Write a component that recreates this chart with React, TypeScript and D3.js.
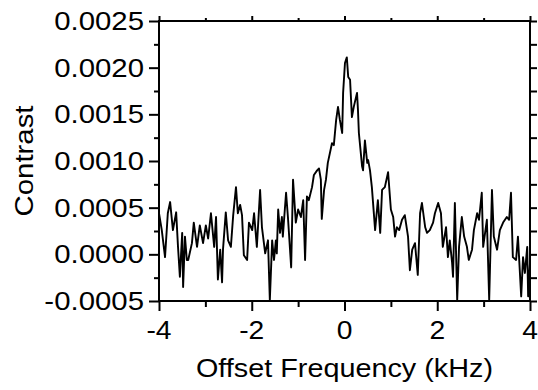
import * as d3 from 'd3';
import { useEffect, useRef } from 'react';

// offset frequency (kHz) and contrast
const freq = [
  -4.0, -3.94, -3.87, -3.81, -3.76, -3.7, -3.63, -3.59, -3.55, -3.5, -3.48, -3.44, -3.4, -3.37, -3.29, -3.25,
  -3.18, -3.12, -3.05, -2.99, -2.94, -2.88, -2.81, -2.77, -2.73, -2.68, -2.64, -2.62, -2.56, -2.51, -2.45, -2.4,
  -2.34, -2.3, -2.25, -2.21, -2.17, -2.1, -2.06, -1.99, -1.95, -1.89, -1.82, -1.78, -1.71, -1.65, -1.61, -1.56,
  -1.52, -1.48, -1.46, -1.43, -1.39, -1.35, -1.33, -1.26, -1.22, -1.15, -1.11, -1.05, -1.0, -0.94, -0.89, -0.85,
  -0.81, -0.77, -0.7, -0.66, -0.59, -0.55, -0.51, -0.49, -0.44, -0.4, -0.36, -0.27, -0.23, -0.18, -0.14, -0.1,
  -0.05, -0.03, 0.01, 0.05, 0.08, 0.12, 0.16, 0.2, 0.27, 0.29, 0.31, 0.38, 0.4, 0.44, 0.49, 0.51,
  0.55, 0.59, 0.66, 0.72, 0.77, 0.81, 0.87, 0.94, 1.0, 1.05, 1.09, 1.13, 1.18, 1.24, 1.3, 1.37,
  1.41, 1.46, 1.52, 1.58, 1.63, 1.67, 1.71, 1.74, 1.78, 1.84, 1.91, 1.95, 2.02, 2.08, 2.12, 2.19,
  2.23, 2.27, 2.32, 2.34, 2.38, 2.43, 2.47, 2.53, 2.58, 2.64, 2.68, 2.75, 2.79, 2.86, 2.9, 2.96,
  2.99, 3.07, 3.12, 3.18, 3.22, 3.29, 3.35, 3.42, 3.5, 3.55, 3.59, 3.63, 3.7, 3.74, 3.81, 3.85,
  3.89, 3.94, 3.96, 4.0
];
const contrast = [
  0.00044, 0.00026, -0.00003, 0.00044, 0.00056, 0.00026, 0.00045, 0.00008, -0.00024, 0.00023, -0.00035, 0.00019, -0.00006, -0.00006, 0.00012, 0.00034,
  0.00008, 0.00031, 0.00012, 0.00031, 0.00017, 0.00044, 0.00008, 0.0004, -0.00027, 0.00005, -0.0003, 0.00005, 0.00045, 0.00015, 0.00008, 0.00042,
  0.00072, 0.00044, 0.00053, 0.00042, -0.00001, -0.00006, 0.00034, 0.00026, 0.00044, 0.00008, 0.00069, 0.00029, 0.00001, 0.00015, -0.00049, 0.00015,
  -0.00006, 0.00015, 0.00001, 0.00048, 0.00023, 0.0004, 0.00019, 0.00066, 0.0004, -0.00014, 0.0008, 0.00034, 0.00048, 0.0004, 0.00058, -0.00006,
  0.00062, 0.00058, 0.00072, 0.00085, 0.0009, 0.00092, 0.0008, 0.00038, 0.00069, 0.0008, 0.00098, 0.00119, 0.00117, 0.00144, 0.00158, 0.00144,
  0.0013, 0.00173, 0.00205, 0.00211, 0.0019, 0.00187, 0.00147, 0.00158, 0.00173, 0.00155, 0.0013, 0.00094, 0.0009, 0.00122, 0.00098, 0.00101,
  0.0009, 0.00072, 0.00026, 0.00058, 0.00023, 0.00069, 0.00072, 0.00088, 0.00048, 0.0004, 0.00019, 0.00029, 0.00026, 0.00037, 0.00042, 0.00019,
  -0.00017, 0.00005, 0.00012, -0.00022, 0.00044, 0.00055, 0.0004, 0.00029, 0.00023, 0.00026, 0.00034, 0.00044, 0.00055, 0.00044, 0.00008, 0.00029,
  -0.00003, 0.00015, -0.00009, -0.00024, 0.00055, -0.00049, 0.00008, 0.0004, 0.00019, 0.00008, -0.00006, 0.00005, 0.00026, 0.00044, 0.00037, 0.00066,
  0.00008, 0.00037, -0.00049, 0.00069, 0.00019, 0.00005, 0.00026, 0.00034, 0.0004, 0.00037, 0.00066, -0.00003, -0.00006, 0.00019, -0.00045, -0.00003,
  -0.0002, 0.00008, -0.00045, -0.00009
];

const xTicks = [-4, -2, 0, 2, 4];
const xMinor = [-3, -1, 1, 3];
const yTicks = [-0.0005, 0, 0.0005, 0.001, 0.0015, 0.002, 0.0025];
const yMinor = [-0.00025, 0.00025, 0.00075, 0.00125, 0.00175, 0.00225];

const xTitle = 'Offset Frequency (kHz)';
const yTitle = 'Contrast';

export default function App() {
  const ref = useRef<SVGSVGElement | null>(null);

  useEffect(() => {
    const svg = d3.select(ref.current);
    svg.selectAll('*').remove();
    const width = 538;
    const height = 390;
    const margin = { top: 21, right: 8, bottom: 89, left: 159 };
    const innerW = width - margin.left - margin.right;
    const innerH = height - margin.top - margin.bottom;
    const font = '"Liberation Sans", Arial, sans-serif';
    const stretch = 1.13;

    const x = d3.scaleLinear().domain([-4, 4]).range([0, innerW]);
    const y = d3.scaleLinear().domain([-0.0005, 0.0025]).range([innerH, 0]);

    const g = svg.append('g').attr('transform', `translate(${margin.left},${margin.top})`);

    g.append('clipPath').attr('id', 'plot-clip')
      .append('rect').attr('x', 0).attr('y', -1).attr('width', innerW).attr('height', innerH + 2);

    // tick marks (labels drawn separately)
    const tickAxis = (axis: d3.Axis<d3.NumberValue>, t: string) => {
      const a = g.append('g').attr('transform', t).call(axis);
      a.select('.domain').remove();
      a.selectAll('line').attr('stroke', '#000').attr('stroke-width', 2);
    };
    tickAxis(d3.axisBottom(x).tickValues(xTicks).tickSize(10).tickFormat(() => ''), `translate(0,${innerH})`);
    tickAxis(d3.axisBottom(x).tickValues(xMinor).tickSize(6).tickFormat(() => ''), `translate(0,${innerH})`);
    tickAxis(d3.axisTop(x).tickValues(xTicks).tickSize(5).tickFormat(() => ''), 'translate(0,0)');
    tickAxis(d3.axisTop(x).tickValues(xMinor).tickSize(3).tickFormat(() => ''), 'translate(0,0)');
    tickAxis(d3.axisLeft(y).tickValues(yTicks).tickSize(10).tickFormat(() => ''), 'translate(0,0)');
    tickAxis(d3.axisLeft(y).tickValues(yMinor).tickSize(5).tickFormat(() => ''), 'translate(0,0)');
    tickAxis(d3.axisRight(y).tickValues(yTicks).tickSize(7).tickFormat(() => ''), `translate(${innerW},0)`);
    tickAxis(d3.axisRight(y).tickValues(yMinor).tickSize(7).tickFormat(() => ''), `translate(${innerW},0)`);

    g.append('rect')
      .attr('width', innerW)
      .attr('height', innerH)
      .attr('fill', 'none')
      .attr('stroke', '#000')
      .attr('stroke-width', 2);

    const pts = freq.map((f, i) => [f, contrast[i]] as [number, number]);
    const line = d3.line<[number, number]>().x((d) => x(d[0])).y((d) => y(d[1]));
    g.append('path')
      .datum(pts)
      .attr('clip-path', 'url(#plot-clip)')
      .attr('d', line)
      .attr('fill', 'none')
      .attr('stroke', '#000')
      .attr('stroke-width', 1.9)
      .attr('stroke-linejoin', 'round');

    g.selectAll('text.ylab')
      .data(yTicks)
      .enter()
      .append('text')
      .attr('class', 'ylab')
      .attr('transform', (d) => `translate(-15,${y(d)}) scale(${stretch},1)`)
      .attr('dy', '0.35em')
      .attr('text-anchor', 'end')
      .attr('font-family', font)
      .attr('font-size', 26)
      .text((d) => d.toFixed(4));

    g.selectAll('text.xlab')
      .data(xTicks)
      .enter()
      .append('text')
      .attr('class', 'xlab')
      .attr('transform', (d) => `translate(${x(d)},${innerH + 38}) scale(${stretch},1)`)
      .attr('text-anchor', 'middle')
      .attr('font-family', font)
      .attr('font-size', 25)
      .text((d) => String(d));

    g.append('text')
      .attr('transform', `translate(${innerW / 2},${innerH + 76}) scale(${stretch},1)`)
      .attr('text-anchor', 'middle')
      .attr('font-family', font)
      .attr('font-size', 25.5)
      .text(xTitle);

    g.append('text')
      .attr('transform', `translate(${33 - margin.left},${innerH / 2}) rotate(-90) scale(${stretch},1)`)
      .attr('text-anchor', 'middle')
      .attr('font-family', font)
      .attr('font-size', 26)
      .text(yTitle);
  }, []);

  return (
    <svg
      ref={ref}
      width={538}
      height={390}
      style={{ position: 'absolute', left: 0, top: 0, background: '#fff' }}
    />
  );
}
